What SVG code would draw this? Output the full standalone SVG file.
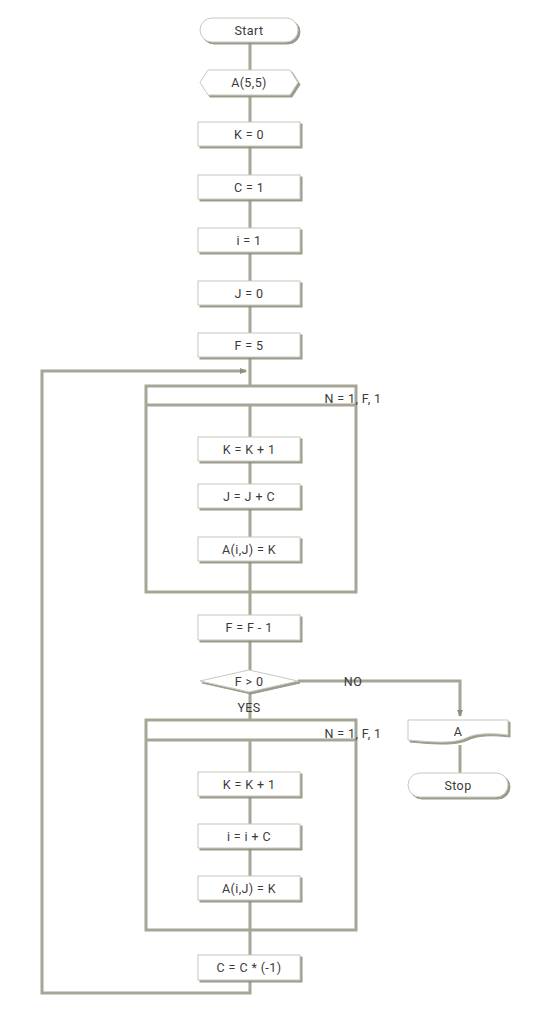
<svg xmlns="http://www.w3.org/2000/svg" width="550" height="1022" viewBox="0 0 550 1022">
<style>
.ln{fill:none;stroke:#a6a696;stroke-width:3}
.frame{fill:none;stroke:#a6a696;stroke-width:3}
.bx{fill:#ffffff;stroke:#c8c8bc;stroke-width:1;filter:url(#sh)}
text{font-family:Roboto,"Liberation Sans",sans-serif;font-size:12.5px;letter-spacing:0.4px;fill:#3a3a3a;text-anchor:middle;dominant-baseline:central}
</style>
<defs>
<filter id="sh" x="-10%" y="-20%" width="125%" height="160%">
<feDropShadow dx="2" dy="2" stdDeviation="0.6" flood-color="#8f8f80" flood-opacity="0.9"/>
</filter>
<marker id="ar" markerWidth="8" markerHeight="8" refX="6" refY="4" orient="auto" markerUnits="userSpaceOnUse">
<path d="M0,1 L7,4 L0,7 Z" fill="#8f8f80"/>
</marker>
</defs>
<g id="connectors">
<path class="ln" d="M250,42 V70 M250,95 V122 M250,146 V175 M250,199 V228 M250,252 V281 M250,305 V333 M250,357 V386"/>
<path class="ln" d="M250,405 V437 M250,461 V484 M250,508 V537 M250,561 V592 M250,592 V615 M250,640 V670"/>
<path class="ln" d="M250,691 V720 M250,740 V772 M250,796 V824 M250,848 V876 M250,900 V930 M250,930 V955"/>
<path class="ln" d="M250,980 V993 H42 V371 H246" marker-end="url(#ar)"/>
<path class="ln" d="M298,681 H460 V716" marker-end="url(#ar)"/>
<path class="ln" d="M460,745 V773"/>
</g>
<g id="loop1">
<rect class="frame" x="146" y="386" width="210" height="206"/>
<line class="frame" x1="146" y1="405" x2="356" y2="405"/>
<text x="353" y="398">N = 1, F, 1</text>
</g>
<g id="loop2">
<rect class="frame" x="146" y="720" width="210" height="210"/>
<line class="frame" x1="146" y1="740" x2="356" y2="740"/>
<text x="353" y="733">N = 1, F, 1</text>
</g>
<g id="start">
<rect class="bx" x="200" y="18" width="98" height="24" rx="12"/>
<text x="249" y="30">Start</text>
</g>
<g id="a55">
<polygon class="bx" points="208,70 290,70 298,82.5 290,95 208,95 200,82.5"/>
<text x="249" y="82.5">A(5,5)</text>
</g>
<g id="k0"><rect class="bx" x="198" y="122" width="102" height="24"/><text x="249" y="134">K = 0</text></g>
<g id="c1"><rect class="bx" x="198" y="175" width="102" height="24"/><text x="249" y="187">C = 1</text></g>
<g id="i1"><rect class="bx" x="198" y="228" width="102" height="24"/><text x="249" y="240">i = 1</text></g>
<g id="j0"><rect class="bx" x="198" y="281" width="102" height="24"/><text x="249" y="293">J = 0</text></g>
<g id="f5"><rect class="bx" x="198" y="333" width="102" height="24"/><text x="249" y="345">F = 5</text></g>
<g id="kk1"><rect class="bx" x="198" y="437" width="102" height="24"/><text x="249" y="449">K = K + 1</text></g>
<g id="jjc"><rect class="bx" x="198" y="484" width="102" height="24"/><text x="249" y="496">J = J + C</text></g>
<g id="aij1"><rect class="bx" x="198" y="537" width="102" height="24"/><text x="249" y="549">A(i,J) = K</text></g>
<g id="ff1"><rect class="bx" x="198" y="615" width="102" height="25"/><text x="249" y="627.5">F = F - 1</text></g>
<g id="dec">
<polygon class="bx" points="249,670 298,681 249,692 200,681"/>
<text x="249" y="681">F &gt; 0</text>
<text x="353" y="681">NO</text>
<text x="249" y="707">YES</text>
</g>
<g id="kk2"><rect class="bx" x="198" y="772" width="102" height="24"/><text x="249" y="784">K = K + 1</text></g>
<g id="iic"><rect class="bx" x="198" y="824" width="102" height="24"/><text x="249" y="836">i = i + C</text></g>
<g id="aij2"><rect class="bx" x="198" y="876" width="102" height="24"/><text x="249" y="888">A(i,J) = K</text></g>
<g id="cc"><rect class="bx" x="198" y="955" width="102" height="25"/><text x="249" y="967.5">C = C * (-1)</text></g>
<g id="outA">
<path class="bx" d="M408,720 H508 V735 C492,733 476,733 466,738 C455,743 440,743 408,740 Z"/>
<text x="458" y="731">A</text>
</g>
<g id="stop">
<rect class="bx" x="408" y="773" width="100" height="24" rx="12"/>
<text x="458" y="785">Stop</text>
</g>
</svg>
